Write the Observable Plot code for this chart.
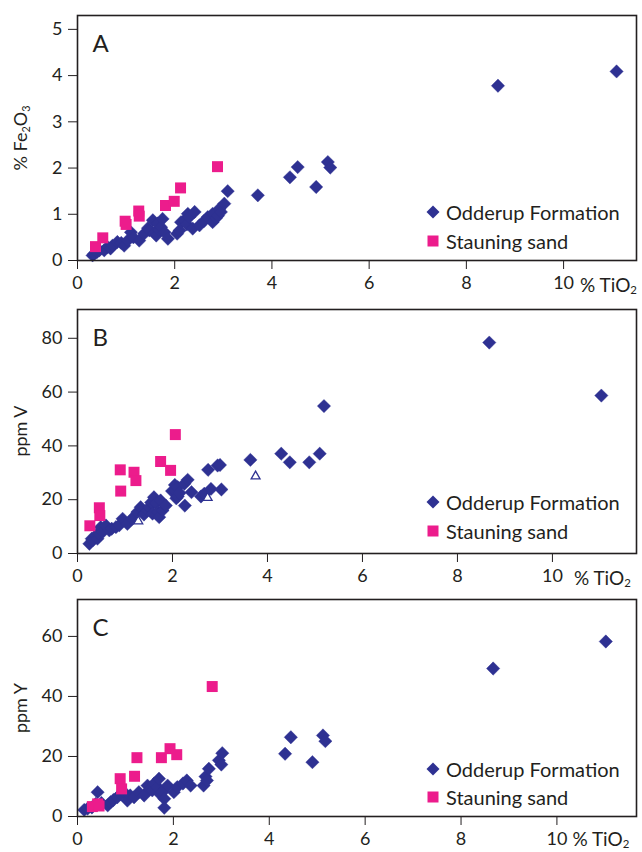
<!DOCTYPE html>
<html><head><meta charset="utf-8">
<script src="https://cdn.jsdelivr.net/npm/d3@7"></script>
<script src="https://cdn.jsdelivr.net/npm/@observablehq/plot@0.6"></script>
<style>
body{margin:0;background:#fff;font-family:Lato,"Open Sans",sans-serif;color:#231f20}
#wrap{position:relative;width:642px;height:852px;overflow:hidden;background:#fff}
.panel{position:absolute;left:0}
.ytitle{position:absolute;font-size:18px;white-space:nowrap;transform:translate(-50%,-50%) rotate(-90deg)}
.xtitle{position:absolute;font-size:19px;white-space:nowrap;transform:translateY(-50%);line-height:1}
.leg{position:absolute;font-size:20px;white-space:nowrap;line-height:1;transform:translateY(-50%);display:flex;align-items:center}
.leg svg{margin-right:6px}
sub{font-size:0.6em;vertical-align:-0.25em;line-height:0}
</style>
</head><body><div id="wrap"></div>
<script>
// ---------- data ----------
// Panel A: % TiO2 vs % Fe2O3
const odderupTiO2_A = [0.31,0.34,0.40,0.45,0.55,0.62,0.68,0.72,0.82,0.90,0.96,1.03,1.10,1.15,1.27,1.37,1.45,1.48,1.55,1.58,1.62,1.65,1.68,1.72,1.75,1.79,1.86,2.05,2.10,2.13,2.20,2.25,2.27,2.30,2.37,2.41,2.51,2.60,2.68,2.78,2.78,2.85,2.89,2.92,2.95,3.02,3.09,3.71,4.37,4.53,4.91,5.15,5.20,8.65,11.09];
const odderupFe2O3   = [0.11,0.14,0.18,0.22,0.22,0.29,0.26,0.32,0.40,0.38,0.32,0.43,0.61,0.50,0.43,0.58,0.70,0.65,0.87,0.60,0.54,0.80,0.66,0.72,0.90,0.61,0.47,0.58,0.65,0.83,0.87,0.78,1.01,0.94,0.69,1.05,0.76,0.85,0.94,1.01,0.83,0.92,0.97,1.12,1.05,1.23,1.50,1.41,1.80,2.02,1.59,2.13,2.01,3.78,4.09];
const stauningTiO2_A = [0.37,0.52,0.98,1.00,1.26,1.27,1.81,1.99,2.12,2.88];
const stauningFe2O3  = [0.30,0.49,0.85,0.78,1.07,0.96,1.19,1.28,1.57,2.03];

// Panel B: % TiO2 vs ppm V
const odderupTiO2_B = [0.25,0.30,0.32,0.39,0.42,0.45,0.49,0.53,0.60,0.67,0.72,0.81,0.88,0.95,1.05,1.15,1.26,1.33,1.40,1.47,1.51,1.55,1.58,1.61,1.65,1.70,1.72,1.75,1.79,1.86,1.99,2.04,2.05,2.08,2.11,2.11,2.15,2.25,2.26,2.32,2.40,2.60,2.67,2.75,2.81,2.95,3.00,3.03,3.64,4.29,4.47,4.88,5.10,5.19,8.67,11.03];
const odderupV      = [3.6,5.5,4.9,6.7,5.5,7.5,9.8,8.0,10.4,8.6,9.2,9.8,10.5,12.9,11.0,13.0,15.4,17.2,14.5,16.0,17.2,19.0,14.8,20.9,18.7,15.5,13.5,19.7,16.0,17.8,23.2,23.4,25.5,20.5,24.7,21.2,22.5,25.9,17.8,27.4,22.8,21.2,22.2,31.1,24.0,32.7,32.9,23.8,34.8,37.1,33.9,33.9,37.1,54.8,78.4,58.7];
const stauningTiO2_B = [0.26,0.46,0.47,0.91,0.90,1.19,1.23,1.75,1.96,2.06];
const stauningV      = [10.3,17.0,14.1,23.2,31.1,30.2,27.1,34.2,30.9,44.2];
const otherTiO2_B = [1.28,2.74,3.75];
const otherV      = [12.0,20.7,28.7];

// Panel C: % TiO2 vs ppm Y
const odderupTiO2_C = [0.14,0.21,0.30,0.38,0.42,0.50,0.63,0.69,0.75,0.83,0.90,0.97,1.04,1.10,1.18,1.28,1.39,1.46,1.50,1.56,1.60,1.67,1.70,1.72,1.77,1.81,1.81,1.88,2.01,2.08,2.20,2.28,2.36,2.63,2.67,2.70,2.74,2.95,3.00,3.02,4.33,4.45,4.90,5.12,5.17,8.67,11.02];
const odderupY      = [2.2,2.6,3.0,4.2,8.1,4.5,3.7,4.8,5.5,6.4,7.5,8.1,5.3,7.0,6.4,8.1,7.0,10.3,9.0,8.7,11.0,9.8,12.6,7.5,8.1,5.9,2.9,10.3,8.1,9.8,11.0,12.0,10.3,10.3,13.3,12.0,15.9,18.7,17.3,21.1,20.9,26.4,18.1,27.0,25.1,49.3,58.3];
const stauningTiO2_C = [0.31,0.42,0.45,0.89,0.92,1.19,1.24,1.75,1.93,2.07,2.81];
const stauningY      = [3.3,4.2,3.5,12.6,9.2,13.4,19.6,19.6,22.6,20.6,43.3];

const xTicks = [0,2,4,6,8,10];
const yTicksA = [0,1,2,3,4,5];
const yTicksB = [0,20,40,60,80];
const yTicksC = [0,20,40,60];
const seriesNames = ["Odderup Formation","Stauning sand"];

// ---------- style ----------
const NAVY = "#2e3192", PINK = "#ec1c8c", INK = "#231f20";
const zip = (xs, ys) => xs.map((x, i) => ({x, y: ys[i]}));

function panel(o) {
  return Plot.plot({
    width: 642, height: o.height,
    marginLeft: 77, marginRight: 6, marginTop: o.mt, marginBottom: o.mb,
    x: {domain: o.xDomain},
    y: {domain: o.yDomain},
    style: {fontFamily: "Lato, 'Open Sans', sans-serif", fontSize: "18px", background: "transparent", color: INK, overflow: "visible"},
    marks: [
      Plot.axisY({ticks: o.yTicks, tickFormat: d => String(d), tickSize: 9, tickPadding: 6, label: null, fontSize: 18}),
      Plot.axisX({ticks: xTicks, tickFormat: d => String(d), tickSize: 9, tickPadding: 7, label: null, fontSize: 18}),
      Plot.dot(o.odd, {x: "x", y: "y", symbol: "diamond2", r: 6, fill: NAVY, stroke: NAVY, strokeWidth: 0.4}),
      o.other ? Plot.dot(o.other, {x: "x", y: "y", symbol: "triangle", r: 3.3, fill: "white", stroke: NAVY, strokeWidth: 1.3}) : null,
      Plot.dot(o.sta, {x: "x", y: "y", symbol: "square", r: 6.2, fill: PINK}),
      Plot.frame({stroke: INK, strokeWidth: 1.6}),
      Plot.text([o.letter], {text: d => d, frameAnchor: "top-left", dx: 15, dy: 19, fontSize: 24, textAnchor: "start", fill: INK})
    ]
  });
}

const wrap = document.getElementById("wrap");
const diamondSvg = `<svg width="14" height="14" viewBox="-7 -7 14 14"><path d="M0,-6.5L6.5,0L0,6.5L-6.5,0Z" fill="${NAVY}"/></svg>`;
const squareSvg = `<svg width="14" height="14" viewBox="-7 -7 14 14"><rect x="-5.5" y="-5.5" width="11" height="11" fill="${PINK}"/></svg>`;

const panels = [
  {letter: "A", top: 0, height: 300, mt: 15, mb: 40, xDomain: [0, 11.5], yDomain: [0, 5.3], yTicks: yTicksA,
   odd: zip(odderupTiO2_A, odderupFe2O3), sta: zip(stauningTiO2_A, stauningFe2O3),
   ytitle: "% Fe<sub>2</sub>O<sub>3</sub>", xgap: 17, xdy: 24, legY: [212, 241]},
  {letter: "B", top: 290, height: 300, mt: 19, mb: 37, xDomain: [0, 11.77], yDomain: [0, 90.7], yTicks: yTicksB,
   odd: zip(odderupTiO2_B, odderupV), sta: zip(stauningTiO2_B, stauningV), other: zip(otherTiO2_B, otherV),
   ytitle: "ppm V", xgap: 22, xdy: 24, legY: [502, 531]},
  {letter: "C", top: 580, height: 272, mt: 19, mb: 36, xDomain: [0, 11.66], yDomain: [0, 72.3], yTicks: yTicksC,
   odd: zip(odderupTiO2_C, odderupY), sta: zip(stauningTiO2_C, stauningY),
   ytitle: "ppm Y", xgap: 16, xdy: 22, legY: [769, 797]}
];

for (const p of panels) {
  const chart = panel(p);
  const div = document.createElement("div");
  div.className = "panel";
  div.style.top = p.top + "px";
  div.appendChild(chart);
  wrap.appendChild(div);

  const frameTop = p.top + p.mt, frameBottom = p.top + p.height - p.mb;

  const yt = document.createElement("div");
  yt.className = "ytitle";
  yt.innerHTML = p.ytitle;
  yt.style.left = "20px";
  yt.style.top = ((frameTop + frameBottom) / 2) + "px";
  wrap.appendChild(yt);

  const sx = chart.scale("x");
  const xt = document.createElement("div");
  xt.className = "xtitle";
  xt.innerHTML = "% TiO<sub>2</sub>";
  xt.style.left = (sx.apply(10) + p.xgap) + "px";
  xt.style.top = (frameBottom + p.xdy) + "px";
  wrap.appendChild(xt);

  seriesNames.forEach((name, i) => {
    const lg = document.createElement("div");
    lg.className = "leg";
    lg.style.left = "426px";
    lg.style.top = p.legY[i] + "px";
    lg.innerHTML = (i === 0 ? diamondSvg : squareSvg) + `<span>${name}</span>`;
    wrap.appendChild(lg);
  });
}
</script></body></html>
